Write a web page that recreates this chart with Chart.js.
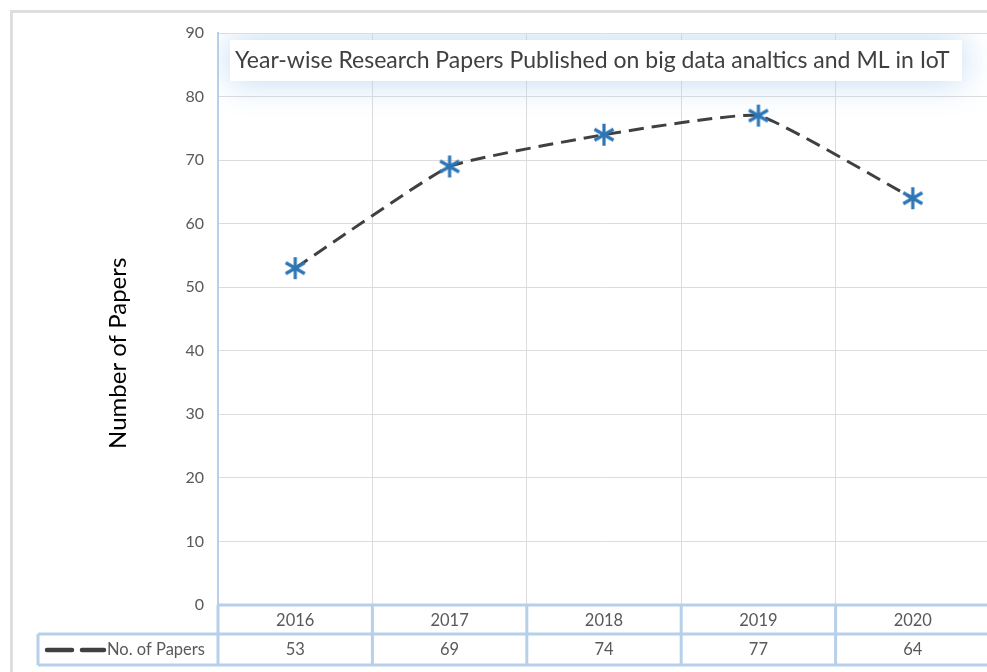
<!DOCTYPE html>
<html>
<head>
<meta charset="utf-8">
<script src="https://cdn.jsdelivr.net/npm/chart.js@4.4.1/dist/chart.umd.min.js"></script>
<style>
html, body { margin: 0; padding: 0; background: #fff; overflow: hidden; }
#frame { position: absolute; left: 10px; top: 10px; width: 1000px; height: 700px; border: 3px solid #dedede; box-sizing: border-box; }
#wrap { position: absolute; left: 0; top: 0; width: 1006px; height: 672px; }
</style>
</head>
<body>
<div id="frame"></div>
<div id="wrap"><canvas id="chart"></canvas></div>
<script>
// datos del grafico
const years = ['2016', '2017', '2018', '2019', '2020'];
const papers = [53, 69, 74, 77, 64];
const seriesName = 'No. of Papers';
const chartTitle = 'Year-wise Research Papers Published on big data analtics and ML in IoT';
const yTitle = 'Number of Papers';

const FONT = 'Lato, "Open Sans", sans-serif';
const GRAY_TXT = '#595959';
const TABLE_BLUE = '#b7d0ea';

// marcador asterisco (*) de 6 brazos
function makeAsterisk(size, color) {
    const c = document.createElement('canvas');
    c.width = size; c.height = size;
    const g = c.getContext('2d');
    const r = size / 2 - 2;
    g.strokeStyle = color;
    g.lineWidth = 3.2;
    g.translate(size / 2, size / 2);
    for (let i = 0; i < 3; i++) {
        const a = Math.PI / 2 + i * Math.PI / 3;
        g.beginPath();
        g.moveTo(Math.cos(a) * r, Math.sin(a) * r);
        g.lineTo(-Math.cos(a) * r, -Math.sin(a) * r);
        g.stroke();
    }
    return c;
}
const star = makeAsterisk(26, '#2e75b6');

// caja del titulo dentro del area del grafico
const titleBox = {
    id: 'titleBox',
    beforeDatasetsDraw(chart) {
        const { ctx, chartArea } = chart;
        ctx.save();
        ctx.beginPath();
        ctx.rect(chartArea.left + 1, chartArea.top + 1, chartArea.width, chartArea.height);
        ctx.clip();
        ctx.shadowColor = 'rgba(175, 208, 240, 0.85)';
        ctx.shadowBlur = 34;
        ctx.fillStyle = '#ffffff';
        ctx.fillRect(chartArea.left + 12, chartArea.top + 7, 732, 41);
        ctx.shadowBlur = 0;
        ctx.shadowColor = 'transparent';
        ctx.fillStyle = '#404040';
        ctx.font = '23px ' + FONT;
        ctx.textBaseline = 'middle';
        ctx.textAlign = 'left';
        ctx.fillText(chartTitle, chartArea.left + 17, chartArea.top + 28);
        ctx.restore();
    }
};

// titulo del eje Y (un poco por debajo del centro, como en el original)
const yAxisTitle = {
    id: 'yAxisTitle',
    afterDraw(chart) {
        const { ctx, chartArea } = chart;
        ctx.save();
        ctx.translate(118, chartArea.top + chartArea.height * 0.56);
        ctx.rotate(-Math.PI / 2);
        ctx.fillStyle = '#000000';
        ctx.font = '24px ' + FONT;
        ctx.textAlign = 'center';
        ctx.textBaseline = 'middle';
        ctx.fillText(yTitle, 0, 0);
        ctx.restore();
    }
};

// tabla de datos bajo el eje X
const dataTable = {
    id: 'dataTable',
    afterDraw(chart) {
        const { ctx, chartArea, scales: { x } } = chart;
        const top = chartArea.bottom;
        const mid = top + 29;
        const bottom = mid + 31;
        const legendLeft = 38;
        const right = chart.width + 5;
        ctx.save();
        ctx.strokeStyle = TABLE_BLUE;
        ctx.lineWidth = 3;
        // lineas horizontales
        ctx.beginPath();
        ctx.moveTo(chartArea.left, top); ctx.lineTo(right, top);
        ctx.moveTo(legendLeft, mid); ctx.lineTo(right, mid);
        ctx.moveTo(legendLeft, bottom); ctx.lineTo(right, bottom);
        // lineas verticales
        ctx.moveTo(legendLeft, mid); ctx.lineTo(legendLeft, bottom);
        for (let i = 0; i <= years.length; i++) {
            const px = x.getPixelForValue(i - 0.5);
            ctx.moveTo(px, top); ctx.lineTo(px, bottom);
        }
        ctx.stroke();

        // muestra de leyenda
        ctx.strokeStyle = '#404040';
        ctx.lineWidth = 4.5;
        ctx.lineCap = 'round';
        ctx.beginPath();
        ctx.moveTo(47, mid + 16); ctx.lineTo(72, mid + 16);
        ctx.moveTo(82, mid + 16); ctx.lineTo(104, mid + 16);
        ctx.stroke();

        ctx.fillStyle = GRAY_TXT;
        ctx.font = '16.5px ' + FONT;
        ctx.textBaseline = 'middle';
        ctx.textAlign = 'left';
        ctx.fillText(seriesName, 107, mid + 16);
        ctx.textAlign = 'center';
        papers.forEach(function (v, i) {
            ctx.fillText(String(v), x.getPixelForValue(i), mid + 16);
        });
        ctx.restore();
    }
};

new Chart(document.getElementById('chart'), {
    type: 'line',
    data: {
        labels: years,
        datasets: [{
            label: seriesName,
            data: papers,
            borderColor: '#404040',
            borderWidth: 3,
            borderDash: [15, 8],
            tension: 0.12,
            pointStyle: star,
            pointRadius: 13,
            pointHoverRadius: 13
        }]
    },
    options: {
        responsive: true,
        maintainAspectRatio: false,
        animation: false,
        layout: { padding: { left: 100, top: 33, right: 0, bottom: 7 } },
        plugins: {
            legend: { display: false },
            tooltip: { enabled: false },
            title: { display: false }
        },
        scales: {
            x: {
                offset: true,
                grid: { offset: true, color: '#dcdcdc', drawTicks: false },
                border: { display: false },
                ticks: { color: GRAY_TXT, font: { size: 16.5, family: FONT }, padding: 6 },
                afterFit(scale) { scale.height = 60; }
            },
            y: {
                min: 0,
                max: 90,
                ticks: { stepSize: 10, color: GRAY_TXT, font: { size: 16, family: FONT }, padding: 14 },
                grid: { color: '#dcdcdc', drawTicks: false },
                border: { color: TABLE_BLUE, width: 2 },
                title: { display: false },
                afterFit(scale) { scale.width = 118; }
            }
        }
    },
    plugins: [titleBox, yAxisTitle, dataTable]
});
</script>
</body>
</html>
